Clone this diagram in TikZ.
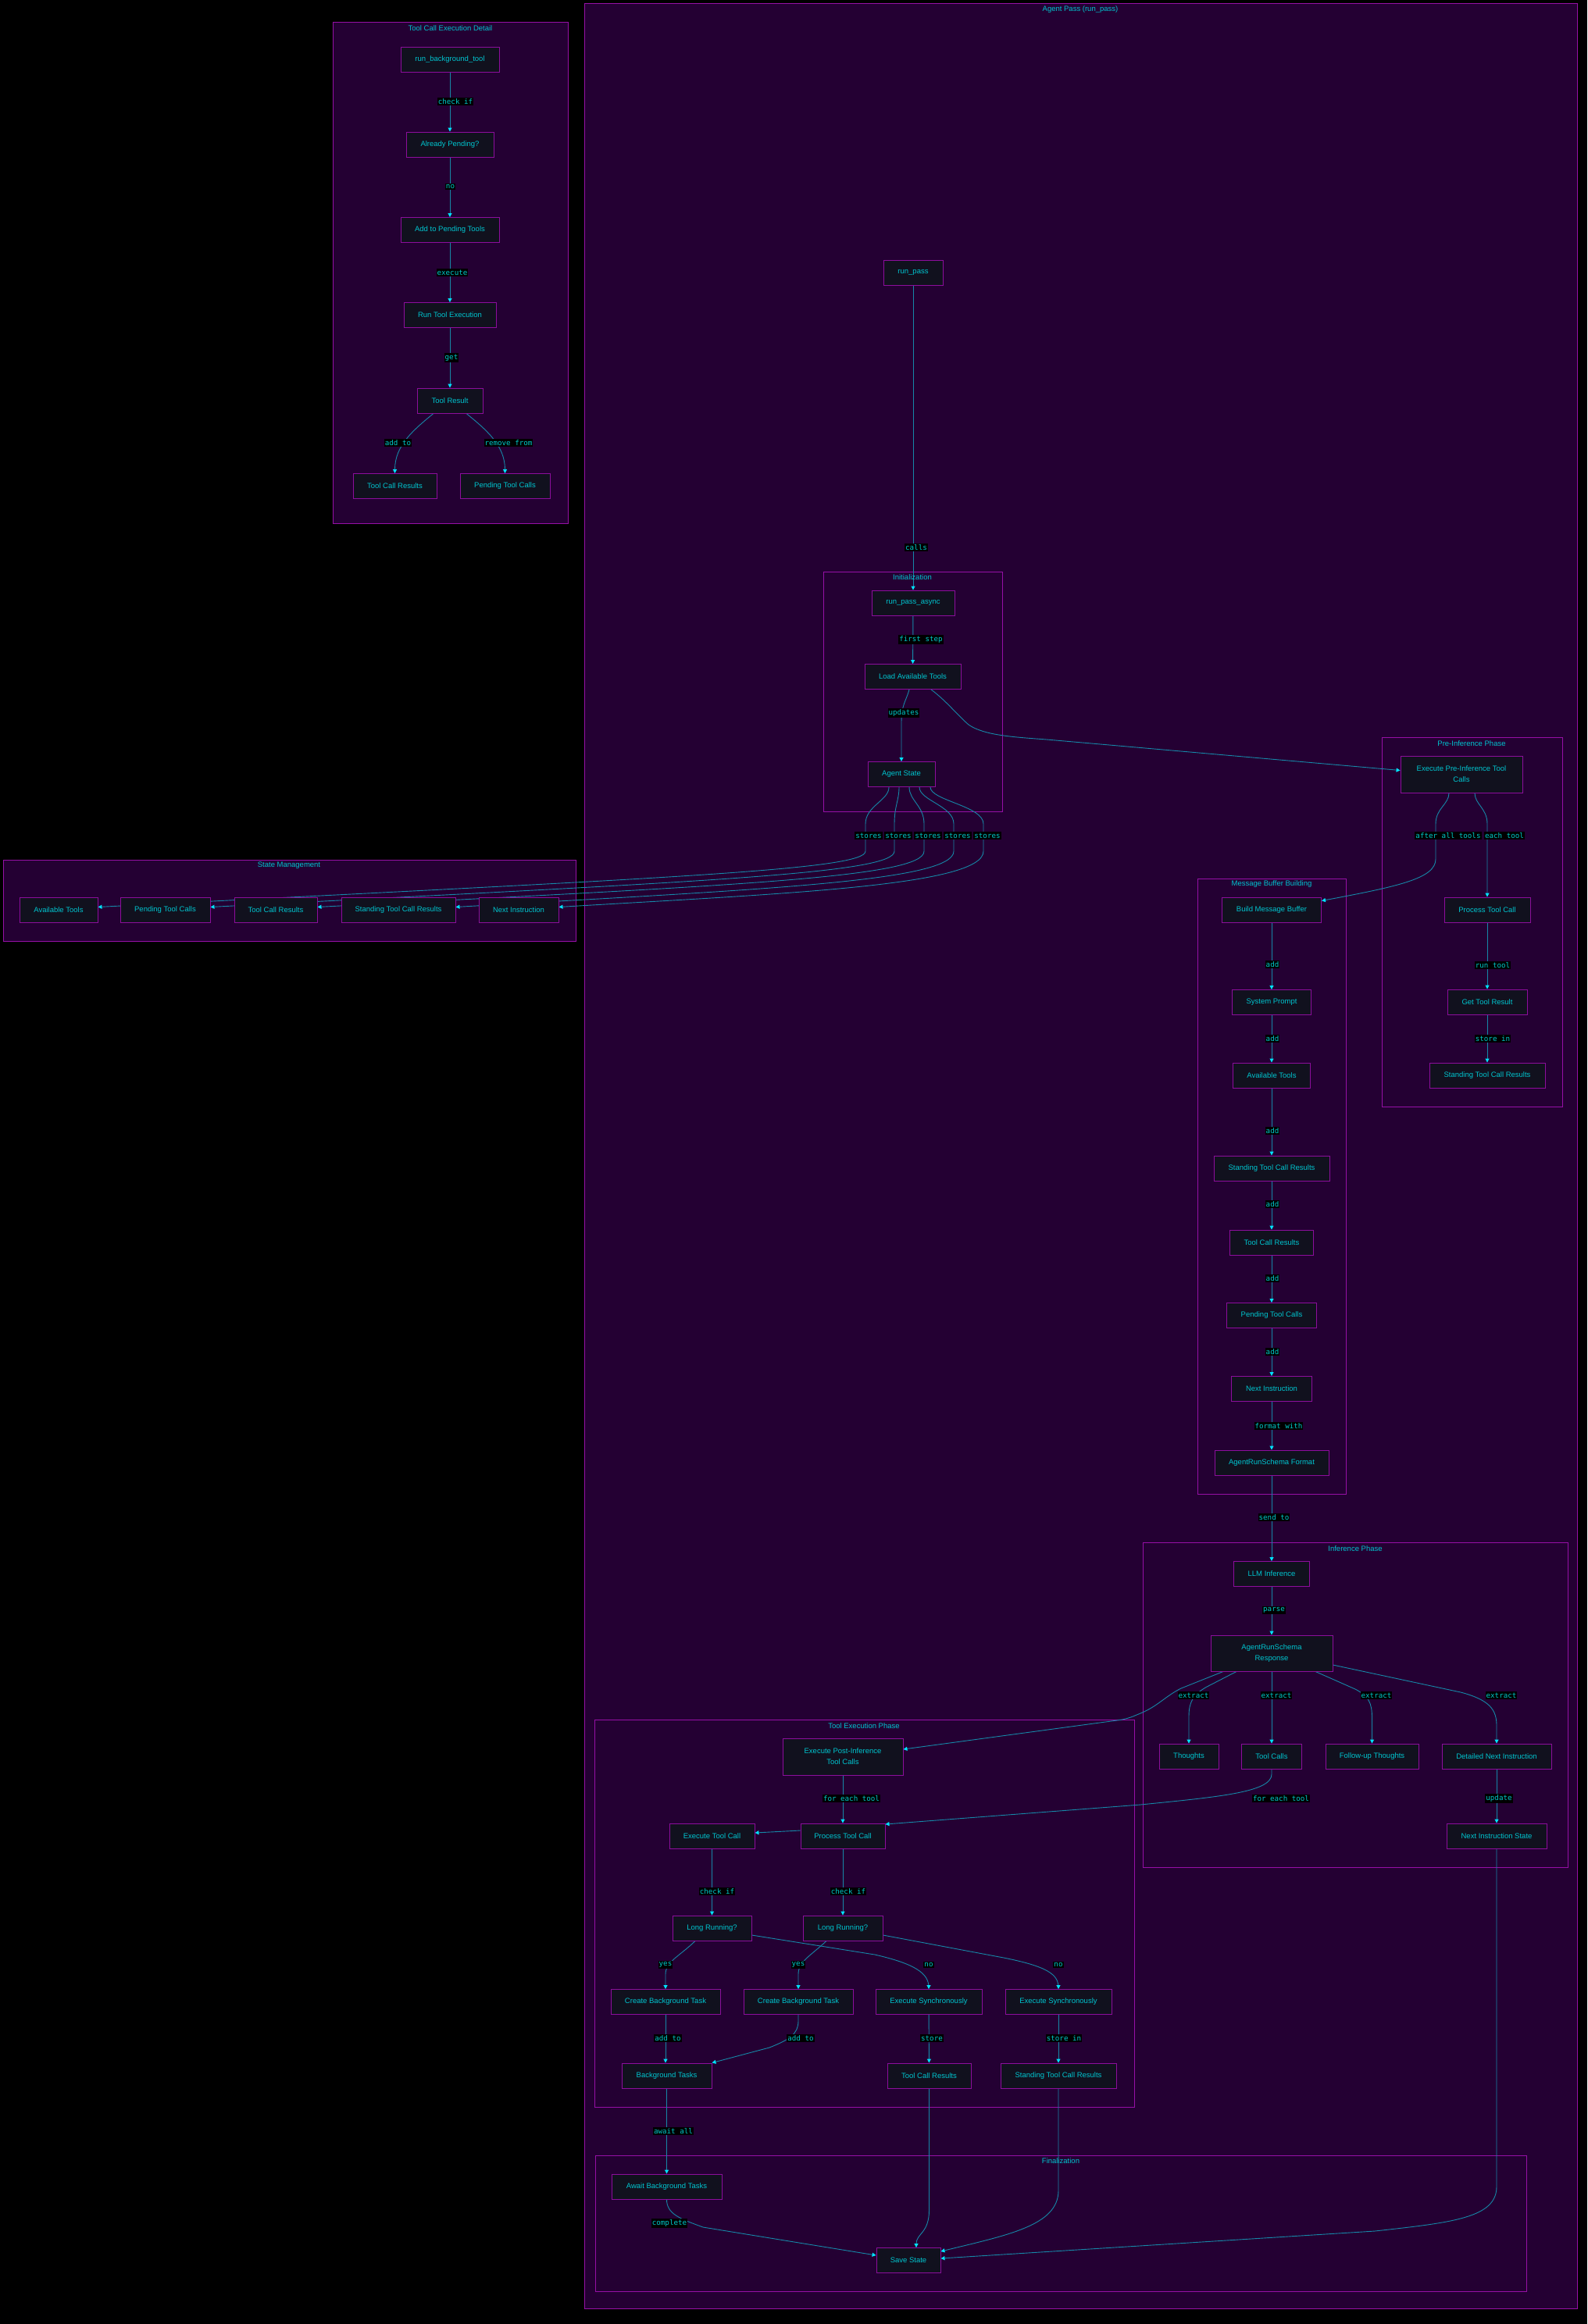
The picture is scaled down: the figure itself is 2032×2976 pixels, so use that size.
\documentclass[tikz,border=0pt]{standalone}
\usepackage{fontspec}
\setmainfont{Liberation Sans}
\newfontfamily\lblfont{DejaVu Sans Mono}
\usetikzlibrary{arrows.meta}
\definecolor{clfill}{RGB}{36,0,51}
\definecolor{cldraw}{RGB}{150,16,166}
\definecolor{nfill}{RGB}{17,17,30}
\definecolor{ndraw}{RGB}{140,14,156}
\definecolor{tcol}{RGB}{0,196,206}
\definecolor{lcol}{RGB}{0,200,200}
\definecolor{ecol}{RGB}{22,136,168}
\definecolor{acol}{RGB}{0,228,255}
\pgfdeclarelayer{bg}
\pgfdeclarelayer{edges}
\pgfdeclarelayer{lbls}
\pgfsetlayers{bg,edges,main,lbls}
\begin{document}
\begin{tikzpicture}[x=1pt,y=-1pt,
  nd/.style={draw=ndraw,fill=nfill,line width=0.9pt,text=tcol,font=\fontsize{9.5}{14}\selectfont,minimum height=32pt,inner sep=1pt,align=center},
  ctitle/.style={text=tcol,font=\fontsize{9.5}{11}\selectfont,inner sep=0pt},
  lbl/.style={fill=black,text=lcol,font=\lblfont\fontsize{9.2}{11}\selectfont,inner xsep=1pt,inner ysep=1.5pt},
  cluster/.style={draw=cldraw,fill=clfill,line width=0.9pt},
  e/.style={draw=ecol,line width=0.9pt,-{Triangle[length=5pt,width=5pt,color=acol]}}]
\useasboundingbox (0,0) rectangle (2032,2976);
\begin{pgfonlayer}{bg}
\fill[black] (0,0) rectangle (2032,2976);
\draw[cluster] (426,28) rectangle (727,670);
\draw[cluster] (4,1101) rectangle (737,1205);
\draw[cluster] (748,4) rectangle (2019,2956);
\draw[cluster] (1054,732) rectangle (1283,1039);
\draw[cluster] (1769,944) rectangle (2000,1417);
\draw[cluster] (1533,1125) rectangle (1723,1913);
\draw[cluster] (1463,1975) rectangle (2007,2391);
\draw[cluster] (761,2202) rectangle (1452,2698);
\draw[cluster] (762,2760) rectangle (1954,2934);
\end{pgfonlayer}
% cluster titles
\node[ctitle] (t1) at (576.5,36) {Tool Call Execution Detail};
\node[ctitle] (t2) at (370,1108) {State Management};
\node[ctitle] (t3) at (1383,12) {Agent Pass (run\_pass)};
\node[ctitle] (t4) at (1168,739) {Initialization};
\node[ctitle] (t5) at (1884,952) {Pre-Inference Phase};
\node[ctitle] (t6) at (1628,1132) {Message Buffer Building};
\node[ctitle] (t7) at (1735,1983) {Inference Phase};
\node[ctitle] (t8) at (1106,2210) {Tool Execution Phase};
\node[ctitle] (t9) at (1358,2767) {Finalization};
% Tool call execution detail
\node[nd,minimum width=126pt] (tbg) at (576,76) {run\_background\_tool};
\node[nd,minimum width=112pt] (tap) at (576,185) {Already Pending?};
\node[nd,minimum width=126pt] (tadd) at (576,294.5) {Add to Pending Tools};
\node[nd,minimum width=118pt] (trun) at (576,403.5) {Run Tool Execution};
\node[nd,minimum width=84pt] (tres) at (576,513) {Tool Result};
\node[nd,minimum width=107pt] (ttcr) at (505.5,622.5) {Tool Call Results};
\node[nd,minimum width=115pt] (tptc) at (646.5,622.5) {Pending Tool Calls};
% State management
\node[nd,minimum width=100pt] (sat) at (75,1165) {Available Tools};
\node[nd,minimum width=115pt] (sptc) at (211.5,1165) {Pending Tool Calls};
\node[nd,minimum width=106pt] (stcr) at (353,1165) {Tool Call Results};
\node[nd,minimum width=146pt] (sstcr) at (510,1165) {Standing Tool Call Results};
\node[nd,minimum width=102pt] (sni) at (664,1165) {Next Instruction};
% Main / init
\node[nd,minimum width=76pt] (runpass) at (1169,349) {run\_pass};
\node[nd,minimum width=106pt] (rpa) at (1169,772) {run\_pass\_async};
\node[nd,minimum width=123pt] (lat) at (1168.5,866.5) {Load Available Tools};
\node[nd,minimum width=86pt] (ags) at (1154,991.5) {Agent State};
% Pre-inference
\node[nd,minimum width=156pt,minimum height=47pt] (epre) at (1871,991.5) {Execute Pre-Inference Tool\\Calls};
\node[nd,minimum width=110pt] (pptc) at (1904,1165) {Process Tool Call};
\node[nd,minimum width=102pt] (gtr) at (1904,1283) {Get Tool Result};
\node[nd,minimum width=148pt] (pstcr) at (1904,1377) {Standing Tool Call Results};
% Message buffer
\node[nd,minimum width=127pt] (bmb) at (1628,1165.5) {Build Message Buffer};
\node[nd,minimum width=101pt] (msp) at (1628,1283.5) {System Prompt};
\node[nd,minimum width=99pt] (mat) at (1628,1377) {Available Tools};
\node[nd,minimum width=148pt] (mstcr) at (1628,1496) {Standing Tool Call Results};
\node[nd,minimum width=107pt] (mtcr) at (1628,1591) {Tool Call Results};
\node[nd,minimum width=115pt] (mptc) at (1628,1684.5) {Pending Tool Calls};
\node[nd,minimum width=103pt] (mni) at (1628,1778.5) {Next Instruction};
\node[nd,minimum width=146pt] (marsf) at (1628,1873) {AgentRunSchema Format};
% Inference
\node[nd,minimum width=97pt] (llm) at (1628,2015.5) {LLM Inference};
\node[nd,minimum width=156pt,minimum height=46pt] (arsr) at (1628,2117) {AgentRunSchema\\Response};
\node[nd,minimum width=76pt] (th) at (1522,2249) {Thoughts};
\node[nd,minimum width=77pt] (tc) at (1628,2249) {Tool Calls};
\node[nd,minimum width=119pt] (fut) at (1756.5,2249) {Follow-up Thoughts};
\node[nd,minimum width=140pt] (dni) at (1916,2249) {Detailed Next Instruction};
\node[nd,minimum width=128pt] (nis) at (1916,2351) {Next Instruction State};
% Tool execution
\node[nd,minimum width=154pt,minimum height=47pt] (epost) at (1079,2249.5) {Execute Post-Inference\\Tool Calls};
\node[nd,minimum width=108pt] (xptc) at (1079,2351) {Process Tool Call};
\node[nd,minimum width=109pt] (xetc) at (911.5,2351) {Execute Tool Call};
\node[nd,minimum width=101pt] (lr1) at (911.5,2469) {Long Running?};
\node[nd,minimum width=102pt] (lr2) at (1079,2469) {Long Running?};
\node[nd,minimum width=140pt] (cbt1) at (852,2563.5) {Create Background Task};
\node[nd,minimum width=140pt] (cbt2) at (1022,2563.5) {Create Background Task};
\node[nd,minimum width=136pt] (es1) at (1189,2563.5) {Execute Synchronously};
\node[nd,minimum width=136pt] (es2) at (1355,2563.5) {Execute Synchronously};
\node[nd,minimum width=115pt] (bgt) at (853.5,2658) {Background Tasks};
\node[nd,minimum width=107pt] (xtcr) at (1189.5,2658) {Tool Call Results};
\node[nd,minimum width=148pt] (xstcr) at (1355,2658) {Standing Tool Call Results};
% Finalization
\node[nd,minimum width=141pt] (abt) at (853.5,2800) {Await Background Tasks};
\node[nd,minimum width=82pt] (ss) at (1163,2894.5) {Save State};

\begin{pgfonlayer}{edges}
% detail
\draw[e] (tbg) -- (tap);
\draw[e] (tap) -- (tadd);
\draw[e] (tadd) -- (trun);
\draw[e] (trun) -- (tres);
\draw[e] ([xshift=-21pt]tres.south) .. controls (530,550) and (505.5,570) .. (ttcr.north);
\draw[e] ([xshift=21pt]tres.south) .. controls (622,550) and (646.5,570) .. (tptc.north);
% init
\draw[e] (runpass) -- (rpa);
\draw[e] (rpa) -- (lat);
\draw[e] ([xshift=-4.5pt]lat.south) .. controls (1160,898) and (1154,902) .. (1154,925) -- (ags.north);
\draw[e] ([xshift=23.5pt]lat.south) .. controls (1212,898) and (1225,915) .. (1240,928) .. controls (1260,942) and (1300,944) .. (1340,947) -- ([yshift=5pt]epre.west);
% stores
\foreach \dx/\vx/\k/\tgt in {-16/1108/0/sat,-3/1145/5/sptc,10/1183/10/stcr,23/1221/15/sstcr,37/1259/20/sni}{
  \draw[e] ([xshift=\dx pt]ags.south) .. controls ({1154+\dx},1025) and (\vx,1032) .. (\vx,1055) -- (\vx,1090) .. controls (\vx,{1114+\k}) and ({\vx-250},{1124+\k}) .. ([yshift=3.5pt]\tgt.east);
}
% pre-inference
\draw[e] ([xshift=-16pt]epre.south) .. controls (1855,1030) and (1838,1035) .. (1838,1055) -- (1838,1100) .. controls (1838,1125) and (1790,1135) .. ([yshift=12pt]bmb.east);
\draw[e] ([xshift=17pt]epre.south) .. controls (1888,1030) and (1904,1035) .. (1904,1055) -- (pptc.north);
\draw[e] (pptc) -- (gtr);
\draw[e] (gtr) -- (pstcr);
% message buffer
\draw[e] (bmb) -- (msp);
\draw[e] (msp) -- (mat);
\draw[e] (mat) -- (mstcr);
\draw[e] (mstcr) -- (mtcr);
\draw[e] (mtcr) -- (mptc);
\draw[e] (mptc) -- (mni);
\draw[e] (mni) -- (marsf);
\draw[e] (marsf) -- (llm);
% inference
\draw[e] (llm) -- (arsr);
\draw[e] ([xshift=-45pt]arsr.south) -- (1545,2160) .. controls (1527,2170) and (1522,2180) .. (1522,2198) -- (th.north);
\draw[e] (arsr) -- (tc);
\draw[e] ([xshift=56pt]arsr.south) -- (1735,2163) .. controls (1752,2172) and (1756.5,2180) .. (1756.5,2200) -- (fut.north);
\draw[e] ([yshift=-15pt]arsr.east) -- (1870,2167) .. controls (1908,2177) and (1916,2190) .. (1916,2210) -- (dni.north);
\draw[e] ([xshift=-62pt]arsr.south) -- (1512,2162) .. controls (1492,2172) and (1482,2185) .. (1460,2194) .. controls (1450,2198) and (1445,2201) .. (1430,2203) -- ([yshift=9.5pt]epost.east);
\draw[e] (tc.south) -- (1628,2272) .. controls (1628,2295) and (1560,2301) .. (1460,2311) -- ([yshift=15pt]xptc.east);
\draw[e] (dni) -- (nis);
\draw[e] (nis.south) -- (1916,2800) .. controls (1916,2840) and (1860,2846) .. (1760,2857) -- ([yshift=2.5pt]ss.east);
% tool execution
\draw[e] (epost) -- (xptc);
\draw[e] ([yshift=7pt]xptc.west) -- ([yshift=4pt]xetc.east);
\draw[e] (xetc) -- (lr1);
\draw[e] (xptc) -- (lr2);
\draw[e] ([xshift=-21.5pt]lr1.south) .. controls (870,2505) and (852,2512) .. (852,2528) -- (cbt1.north);
\draw[e] ([yshift=-9pt]lr1.east) -- (1120,2503) .. controls (1172,2515) and (1189,2527) .. (1189,2545) -- (es1.north);
\draw[e] ([xshift=-21pt]lr2.south) .. controls (1037,2505) and (1022,2512) .. (1022,2528) -- (cbt2.north);
\draw[e] ([yshift=-9pt]lr2.east) -- (1285,2507) .. controls (1340,2518) and (1355,2528) .. (1355,2545) -- (es2.north);
\draw[e] (cbt1.south) -- (cbt1.south |- bgt.north);
\draw[e] (cbt2.south) -- (1022,2588) .. controls (1022,2605) and (1010,2612) .. (985,2622) -- (bgt.north east);
\draw[e] (es1) -- (xtcr);
\draw[e] (es2) -- (xstcr);
\draw[e] (bgt) -- (abt);
% finalization
\draw[e] (xtcr.south) -- (1189.5,2830) .. controls (1189.5,2860) and (1173,2860) .. ([xshift=10pt]ss.north);
\draw[e] (xstcr.south) -- (1355,2805) .. controls (1355,2850) and (1290,2862) .. ([yshift=11.5pt]ss.east);
\draw[e] (abt.south) .. controls (853.5,2835) and (870,2841) .. (900,2852) -- ([yshift=6.5pt]ss.west);
\end{pgfonlayer}

\begin{pgfonlayer}{lbls}
\node[lbl] (l1) at (583,130) {check if};
\node[lbl] (l2) at (576.5,239) {no};
\node[lbl] (l3) at (579,349) {execute};
\node[lbl] (l4) at (578,458) {get};
\node[lbl] (l5) at (509.5,567) {add to};
\node[lbl] (l6) at (651,567) {remove from};
\node[lbl] (l7) at (1173,701) {calls};
\node[lbl] (l8) at (1179,819) {first step};
\node[lbl] (l9) at (1157,913) {updates};
\node[lbl] (l10) at (1112,1070) {stores};
\node[lbl] (l11) at (1150,1070) {stores};
\node[lbl] (l12) at (1188,1070) {stores};
\node[lbl] (l13) at (1226,1070) {stores};
\node[lbl] (l14) at (1264,1070) {stores};
\node[lbl] (l15) at (1854,1070) {after all tools};
\node[lbl] (l16) at (1926,1070) {each tool};
\node[lbl] (l17) at (1911,1236) {run tool};
\node[lbl] (l18) at (1911,1330) {store in};
\node[lbl] (l19) at (1629,1235) {add};
\node[lbl] (l20) at (1629,1330) {add};
\node[lbl] (l21) at (1629,1448) {add};
\node[lbl] (l22) at (1629,1542) {add};
\node[lbl] (l23) at (1629,1637) {add};
\node[lbl] (l24) at (1629,1731) {add};
\node[lbl] (l25) at (1637,1826) {format with};
\node[lbl] (l26) at (1631,1943) {send to};
\node[lbl] (l27) at (1631,2062) {parse};
\node[lbl] (l28) at (1528,2171) {extract};
\node[lbl] (l29) at (1634,2171) {extract};
\node[lbl] (l30) at (1762,2171) {extract};
\node[lbl] (l31) at (1922,2171) {extract};
\node[lbl] (l32) at (1640,2303) {for each tool};
\node[lbl] (l33) at (1919,2303) {update};
\node[lbl] (l34) at (1090,2303) {for each tool};
\node[lbl] (l35) at (918,2422) {check if};
\node[lbl] (l36) at (1086,2422) {check if};
\node[lbl] (l37) at (852,2516) {yes};
\node[lbl] (l38) at (1022,2516) {yes};
\node[lbl] (l39) at (1189,2516) {no};
\node[lbl] (l40) at (1355,2516) {no};
\node[lbl] (l41) at (855,2610) {add to};
\node[lbl] (l42) at (1025,2610) {add to};
\node[lbl] (l43) at (1193,2610) {store};
\node[lbl] (l44) at (1362,2610) {store in};
\node[lbl] (l45) at (862,2729) {await all};
\node[lbl] (l46) at (857,2847) {complete};
\end{pgfonlayer}
\end{tikzpicture}
\end{document}
